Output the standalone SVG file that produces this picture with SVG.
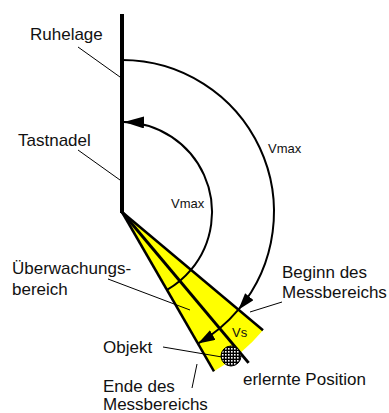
<svg xmlns="http://www.w3.org/2000/svg" width="389" height="413" viewBox="0 0 389 413">
<style>
text{font-family:"Liberation Sans",Arial,sans-serif;fill:#111;}
.l{font-size:17px;}
.s{font-size:13px;}
.arc{fill:none;stroke:#000;stroke-width:2;}
.lead{fill:none;stroke:#000;stroke-width:1;}
</style>
<defs>
<marker id="ah" markerUnits="userSpaceOnUse" markerWidth="18" markerHeight="12" refX="17" refY="5.5" orient="auto">
<path d="M0,0 L17,5.5 L0,11 z" fill="#000"/>
</marker>
<marker id="ahb" markerUnits="userSpaceOnUse" markerWidth="21" markerHeight="13" refX="20" refY="6" orient="auto">
<path d="M0,0 L20,6 L0,12 z" fill="#000"/>
</marker>
<pattern id="chk" patternUnits="userSpaceOnUse" width="3" height="3">
<rect width="3" height="3" fill="#000"/>
<rect width="1.6" height="1.6" fill="#fff"/>
</pattern>
</defs>
<g id="wedge">
<path d="M122,212 L263,330.3 A184,184 0 0 1 214,371.3 Z" fill="#ffff00"/>
</g>
<g id="connectors">
<line x1="122" y1="212" x2="263" y2="330.3" stroke="#000" stroke-width="2.5"/>
<line x1="122" y1="212" x2="214" y2="371.3" stroke="#000" stroke-width="2.5"/>
<line x1="122" y1="212" x2="248.6" y2="362.9" stroke="#000" stroke-width="3"/>
<path class="arc" d="M122,60 A152,152 0 0 1 238.4,309.7" marker-end="url(#ah)"/>
<path class="arc" d="M238.4,309.7 A152,152 0 0 1 198,343.6" marker-end="url(#ah)"/>
<path class="arc" d="M190.9,269.9 A90,90 0 0 0 124,122" marker-end="url(#ahb)"/>
<path class="arc" d="M190.9,269.9 A90,90 0 0 1 167,289.9"/>
<line class="lead" x1="78" y1="47" x2="120" y2="77"/>
<line class="lead" x1="78" y1="150" x2="120" y2="180"/>
<line class="lead" x1="108" y1="279" x2="190" y2="310"/>
<line class="lead" x1="250" y1="312" x2="282" y2="302"/>
<line class="lead" x1="163" y1="347" x2="222" y2="357"/>
<line class="lead" x1="192" y1="388" x2="197" y2="364"/>
</g>
<g id="needle">
<line x1="122" y1="14" x2="122" y2="213" stroke="#000" stroke-width="4"/>
</g>
<g id="objekt">
<circle cx="231" cy="356" r="10" fill="url(#chk)" stroke="#000" stroke-width="1"/>
</g>
<g id="labels">
<text class="l" x="30" y="40">Ruhelage</text>
<text class="l" x="18" y="146">Tastnadel</text>
<text class="s" x="268" y="153">Vmax</text>
<text class="s" x="171" y="208">Vmax</text>
<text class="l" x="12" y="274">Überwachungs-</text>
<text class="l" x="12" y="295">bereich</text>
<text class="l" x="282" y="278">Beginn des</text>
<text class="l" x="282" y="298">Messbereichs</text>
<text class="s" x="232" y="337">Vs</text>
<text class="l" x="103" y="353">Objekt</text>
<text class="l" x="243" y="385">erlernte Position</text>
<text class="l" x="103" y="392">Ende des</text>
<text class="l" x="103" y="410">Messbereichs</text>
</g>
</svg>
